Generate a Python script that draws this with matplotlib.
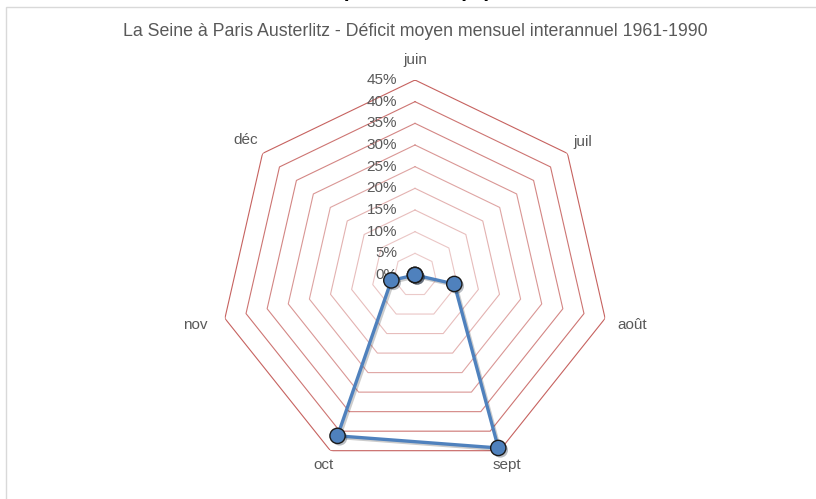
import numpy as np
import matplotlib.pyplot as plt
import matplotlib.patheffects as pe
from matplotlib.patches import Rectangle

# déficit moyen mensuel (%)
mois = ['juin', 'juil', 'août', 'sept', 'oct', 'nov', 'déc']
deficit = [0.0, 0.0, 9.3, 44.3, 41.2, 5.6, 0.0]
niveaux = [5, 10, 15, 20, 25, 30, 35, 40, 45]
etiquettes_niveaux = ['0%', '5%', '10%', '15%', '20%', '25%', '30%', '35%', '40%', '45%']

rmax = 45
# rayon des étiquettes de mois (en unités de données)
r_lab = [49.6, 49.4, 51.5, 48.7, 48.7, 52.0, 49.9]

theta = np.linspace(0, 2 * np.pi, len(mois), endpoint=False)
theta_c = np.append(theta, theta[0])

W, H = 816, 499
fig = plt.figure(figsize=(W / 100, H / 100), dpi=100)

# cadre du graphique
fig.patches.append(Rectangle((6 / W, -0.05), 1.2, 1 - 7 / H + 0.05,
                             transform=fig.transFigure, fill=False,
                             edgecolor='#D9D9D9', linewidth=1.0))

# titre du bloc au-dessus (coupé par le haut)
fig.text(491 / W, 1 + 2.5 / H, 'Dépassement (%)', ha='right', va='baseline',
         fontsize=15, fontweight='bold', family='Liberation Sans', color='black')

fig.text(415 / W, 1 - 32 / H,
         'La Seine à Paris Austerlitz - Déficit moyen mensuel interannuel 1961-1990',
         ha='center', va='center', fontsize=12.8, family='Liberation Sans',
         color='#595959')

cx, cy, R = 415, 275, 195
ax = fig.add_axes([(cx - R) / W, (H - cy - R) / H, 2 * R / W, 2 * R / H],
                  projection='polar')
ax.set_theta_zero_location('N')
ax.set_theta_direction(-1)
ax.set_ylim(0, rmax)
ax.grid(False)
ax.set_xticks([])
ax.set_yticks([])
ax.spines['polar'].set_visible(False)
ax.patch.set_alpha(0)

# grille heptagonale
for i, lv in enumerate(niveaux):
    a = 0.3 + 0.6 * (i / (len(niveaux) - 1)) ** 1.5
    ax.plot(theta_c, [lv] * len(theta_c), color='#C0504D', alpha=a,
            linewidth=0.8, zorder=1)

# graduations radiales
for k, lab in enumerate(etiquettes_niveaux):
    ax.annotate(lab, xy=(0, k * 5), xytext=(-18, 0), textcoords='offset pixels',
                ha='right', va='center', fontsize=11, family='Liberation Sans',
                color='#595959', annotation_clip=False)

# étiquettes des mois
for t, m, r in zip(theta, mois, r_lab):
    ax.text(t, r, m, ha='center', va='center', fontsize=11,
            family='Liberation Sans', color='#595959', clip_on=False)

vals = np.append(deficit, deficit[0])
shadow = [pe.SimpleLineShadow(offset=(1.2, -1.2), alpha=0.2, shadow_color='black'),
          pe.Normal()]
ax.plot(theta_c, vals, color='#4F81BD', linewidth=2.4, zorder=3,
        path_effects=shadow, clip_on=False)
ax.plot(theta, deficit, linestyle='none', marker='o', markersize=11,
        markerfacecolor='#4F81BD', markeredgecolor='#1A1A1A',
        markeredgewidth=1.0, zorder=4, clip_on=False,
        path_effects=[pe.SimplePatchShadow(offset=(1.5, -1.5), alpha=0.3),
                      pe.Normal()])

fig.savefig('out.png', dpi=100)
